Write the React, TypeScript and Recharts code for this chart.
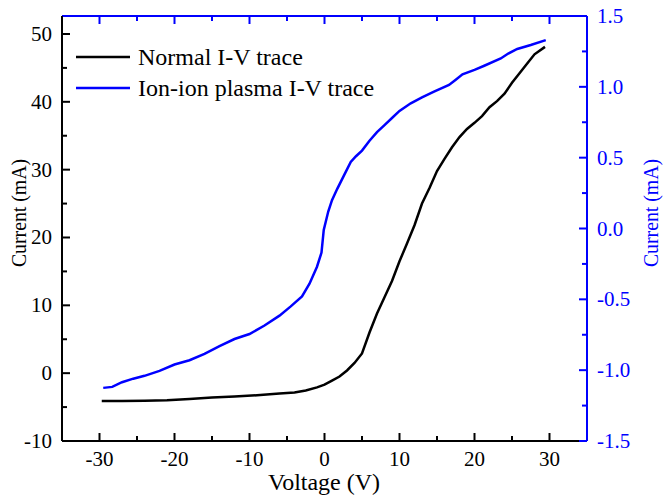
import { LineChart, Line, XAxis, YAxis } from 'recharts';

const normalVoltage = [-29.7, -27, -24, -21, -18, -15, -12, -9, -6, -4, -2.5, -1, 0, 1, 2, 3, 4, 5, 6, 7, 8, 9, 10, 11, 12, 13, 14, 15, 16, 17, 18, 19, 20, 21, 22, 23, 24, 25, 26, 27, 28, 29.4];
const normalCurrent = [-4.1, -4.1, -4.05, -4.0, -3.8, -3.6, -3.45, -3.25, -3.0, -2.85, -2.55, -2.1, -1.7, -1.1, -0.5, 0.4, 1.5, 2.9, 6.0, 8.8, 11.2, 13.6, 16.5, 19.1, 21.8, 25.0, 27.3, 29.8, 31.6, 33.3, 34.8, 36.0, 36.9, 37.9, 39.2, 40.1, 41.2, 42.8, 44.2, 45.6, 47.0, 48.1];

const ionVoltage = [-29.5, -28.3, -27, -25.5, -24, -22, -20, -18, -16, -14, -12, -10, -8, -6, -4.5, -3, -2, -1, -0.4, -0.1, 0.5, 1, 1.7, 2.6, 3.5, 4.2, 5, 6, 7, 8, 9, 10, 11.5, 13, 14.6, 16.6, 17.5, 18.4, 20, 21.3, 23.5, 24.5, 25.7, 27.5, 29.5];
const ionCurrent = [-1.125, -1.118, -1.085, -1.06, -1.04, -1.005, -0.96, -0.93, -0.885, -0.83, -0.78, -0.745, -0.685, -0.615, -0.55, -0.48, -0.39, -0.27, -0.17, -0.01, 0.12, 0.2, 0.28, 0.375, 0.47, 0.51, 0.55, 0.62, 0.68, 0.73, 0.78, 0.83, 0.884, 0.925, 0.966, 1.013, 1.05, 1.088, 1.12, 1.149, 1.2, 1.235, 1.267, 1.295, 1.33];

const voltageTicks = [-30, -25, -20, -15, -10, -5, 0, 5, 10, 15, 20, 25, 30];
const leftTicks = [-10, -5, 0, 5, 10, 15, 20, 25, 30, 35, 40, 45, 50];
const rightTicks = [-1.5, -1.25, -1, -0.75, -0.5, -0.25, 0, 0.25, 0.5, 0.75, 1, 1.25, 1.5];

const legendLabels = ['Normal I-V trace', 'Ion-ion plasma I-V trace'];

const normalData = normalVoltage.map((v, i) => ({ v, i: normalCurrent[i] }));
const ionData = ionVoltage.map((v, i) => ({ v, i: ionCurrent[i] }));

const FONT = "'Liberation Serif', 'Times New Roman', serif";
const BLUE = '#0000ff';
const legendColors = ['#000', BLUE];

const isMajor = (v: number, step: number) => Math.abs(v / step - Math.round(v / step)) < 1e-6;

const BottomTick = (p: any) => {
  const v = p.payload.value;
  const major = isMajor(v, 10);
  return (
    <g>
      <line x1={p.x} y1={p.y} x2={p.x} y2={p.y - (major ? 8 : 5)} stroke='#000' strokeWidth={2} />
      {major && (
        <text x={p.x} y={p.y + 25} textAnchor='middle' fontFamily={FONT} fontSize={21} fill='#000'>
          {v}
        </text>
      )}
    </g>
  );
};

const TopTick = (p: any) => {
  const major = isMajor(p.payload.value, 10);
  return <line x1={p.x} y1={p.y} x2={p.x} y2={p.y + (major ? 8 : 5)} stroke={BLUE} strokeWidth={2} />;
};

const LeftTick = (p: any) => {
  const v = p.payload.value;
  const major = isMajor(v, 10);
  return (
    <g>
      <line x1={p.x} y1={p.y} x2={p.x + (major ? 8 : 5)} y2={p.y} stroke='#000' strokeWidth={2} />
      {major && (
        <text x={p.x - 10} y={p.y + 7} textAnchor='end' fontFamily={FONT} fontSize={21} fill='#000'>
          {v}
        </text>
      )}
    </g>
  );
};

const RightTick = (p: any) => {
  const v = p.payload.value;
  const major = isMajor(v, 0.5);
  return (
    <g>
      <line x1={p.x} y1={p.y} x2={p.x - (major ? 8 : 5)} y2={p.y} stroke={BLUE} strokeWidth={2} />
      {major && (
        <text x={p.x + 10} y={p.y + 7} textAnchor='start' fontFamily={FONT} fontSize={21} fill={BLUE}>
          {v.toFixed(1)}
        </text>
      )}
    </g>
  );
};

const App = () => {
  return (
    <div style={{ position: 'absolute', left: 0, top: 0, background: '#fff' }}>
      <LineChart width={663} height={495} margin={{ top: 15, right: 0, bottom: 0, left: 0 }}>
        <XAxis
          xAxisId='bottom'
          type='number'
          dataKey='v'
          domain={[-35, 35]}
          ticks={voltageTicks}
          interval={0}
          height={54}
          tickSize={0}
          tickMargin={0}
          tickLine={false}
          tick={BottomTick}
          axisLine={{ stroke: '#000', strokeWidth: 2 }}
          allowDataOverflow
        />
        <XAxis
          xAxisId='top'
          orientation='top'
          type='number'
          dataKey='v'
          domain={[-35, 35]}
          ticks={voltageTicks}
          interval={0}
          height={1}
          tickSize={0}
          tickMargin={0}
          tickLine={false}
          tick={TopTick}
          axisLine={{ stroke: BLUE, strokeWidth: 2 }}
          allowDataOverflow
        />
        <YAxis
          yAxisId='left'
          type='number'
          domain={[-10, 52.65]}
          ticks={leftTicks}
          interval={0}
          width={62}
          tickSize={0}
          tickMargin={0}
          tickLine={false}
          tick={LeftTick}
          axisLine={{ stroke: '#000', strokeWidth: 2 }}
          allowDataOverflow
        />
        <YAxis
          yAxisId='right'
          orientation='right'
          type='number'
          domain={[-1.5, 1.5]}
          ticks={rightTicks}
          interval={0}
          width={76}
          tickSize={0}
          tickMargin={0}
          tickLine={false}
          tick={RightTick}
          axisLine={{ stroke: BLUE, strokeWidth: 2 }}
          allowDataOverflow
        />
        <Line
          xAxisId='bottom'
          yAxisId='left'
          data={normalData}
          dataKey='i'
          type='linear'
          stroke='#000'
          strokeWidth={2.5}
          dot={false}
          isAnimationActive={false}
        />
        <Line
          xAxisId='bottom'
          yAxisId='right'
          data={ionData}
          dataKey='i'
          type='linear'
          stroke={BLUE}
          strokeWidth={2.5}
          dot={false}
          isAnimationActive={false}
        />
        {legendLabels.map((label, k) => (
          <g key={label}>
            <line x1={76} y1={57 + k * 31} x2={130} y2={57 + k * 31} stroke={legendColors[k]} strokeWidth={2.5} />
            <text x={138} y={65 + k * 31} fontFamily={FONT} fontSize={24} fill='#000'>
              {label}
            </text>
          </g>
        ))}
        <text x={324} y={490} textAnchor='middle' fontFamily={FONT} fontSize={24} fill='#000'>
          Voltage (V)
        </text>
        <text
          x={0}
          y={0}
          transform='translate(26 213) rotate(-90) scale(0.9 1)'
          textAnchor='middle'
          fontFamily={FONT}
          fontSize={22}
          fill='#000'
        >
          Current (mA)
        </text>
        <text
          x={0}
          y={0}
          transform='translate(658 213) rotate(-90) scale(0.9 1)'
          textAnchor='middle'
          fontFamily={FONT}
          fontSize={22}
          fill={BLUE}
        >
          Current (mA)
        </text>
      </LineChart>
    </div>
  );
};

export default App;
